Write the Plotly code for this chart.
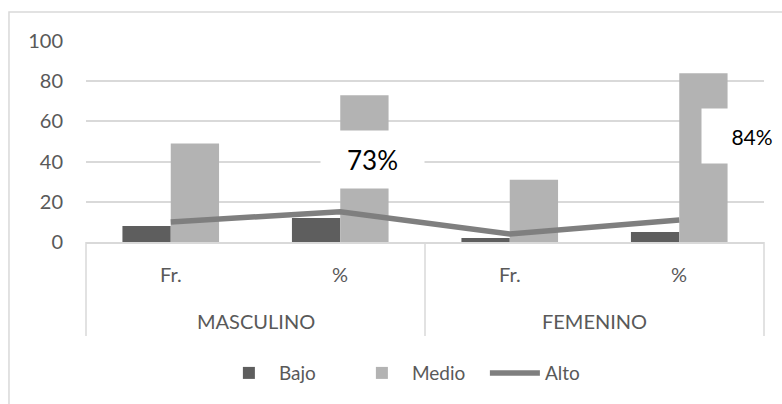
import plotly.graph_objects as go

# datos
grupos = ["MASCULINO", "MASCULINO", "FEMENINO", "FEMENINO"]
medidas = ["Fr.", "%", "Fr.", "%"]
bajo = [8, 12, 2, 5]
medio = [49, 73, 31, 84]
alto = [10, 15, 4, 11]
y_ticks = [0, 20, 40, 60, 80, 100]

GRIS_TXT = "#595959"
GRIS_LINEA = "#d9d9d9"
FUENTE = "Lato, 'Open Sans', sans-serif"

fig = go.Figure()
x_multi = [grupos, medidas]

fig.add_trace(go.Bar(x=x_multi, y=bajo, name="Bajo", marker=dict(color="#5e5e5e", line=dict(width=0))))
fig.add_trace(go.Bar(x=x_multi, y=medio, name="Medio", marker=dict(color="#b3b3b3", line=dict(width=0))))
fig.add_trace(go.Scatter(x=x_multi, y=alto, name="Alto", mode="lines",
                         line=dict(color="#7f7f7f", width=5.5)))

# etiquetas de porcentaje con fondo blanco
fig.add_annotation(x=0.4226, y=0.41, xref="paper", yref="paper", text=f"{medio[1]}%",
                   xanchor="center", yanchor="middle",
                   showarrow=False, bgcolor="white", width=101, height=55,
                   font=dict(size=26, color="black", family=FUENTE))
fig.add_annotation(x=0.982, y=0.527, xref="paper", yref="paper", text=f"{medio[3]}%",
                   xanchor="center", yanchor="middle",
                   showarrow=False, bgcolor="white", width=98, height=52,
                   font=dict(size=21, color="black", family=FUENTE))

# etiquetas del eje de categorias (dos niveles) y divisores
n = len(medidas)
for i, m in enumerate(medidas):
    fig.add_annotation(x=(i + 0.5) / n, y=-0.159, xref="paper", yref="paper", text=m,
                       showarrow=False, xanchor="center", yanchor="middle",
                       font=dict(size=20, color=GRIS_TXT, family=FUENTE))
nombres = list(dict.fromkeys(grupos))
for j, g in enumerate(nombres):
    fig.add_annotation(x=(j + 0.5) / len(nombres), y=-0.393, xref="paper", yref="paper", text=g,
                       showarrow=False, xanchor="center", yanchor="middle",
                       font=dict(size=20, color=GRIS_TXT, family=FUENTE))
for j in range(len(nombres) + 1):
    fig.add_shape(type="line", xref="paper", yref="paper", x0=j / len(nombres), x1=j / len(nombres),
                  y0=0, y1=-0.468, line=dict(color=GRIS_LINEA, width=1.5))

# borde exterior del grafico
fig.add_shape(type="rect", xref="paper", yref="paper", x0=-0.1136, x1=1.1, y0=-0.9, y1=1.144,
              line=dict(color=GRIS_LINEA, width=1.5), layer="below")

fig.update_layout(
    width=782, height=404,
    paper_bgcolor="white", plot_bgcolor="white",
    margin=dict(l=86, r=18, t=41, b=162),
    barmode="group", bargap=0.43, bargroupgap=0,
    font=dict(family=FUENTE, color=GRIS_TXT, size=19),
    showlegend=True,
    legend=dict(orientation="h", x=0.196, xanchor="left", y=-0.652, yanchor="middle",
                font=dict(size=19, color=GRIS_TXT), traceorder="normal", itemwidth=50,
                entrywidth=68, entrywidthmode="pixels"),
    xaxis=dict(type="multicategory", showline=True, linecolor=GRIS_LINEA, linewidth=1.5,
               showdividers=False, showticklabels=False, ticks="", automargin=False),
    yaxis=dict(range=[0, 100], tickvals=y_ticks, showgrid=True, gridcolor=GRIS_LINEA,
               gridwidth=1.5, zeroline=False, showline=False, ticklabelstandoff=22,
               automargin=False, tickfont=dict(size=20, color=GRIS_TXT)),
)

# sin margen de pagina para que la figura quede en el origen
fig.write_html("out.html", config={"displayModeBar": False},
               post_script="document.body.style.margin='0';")
